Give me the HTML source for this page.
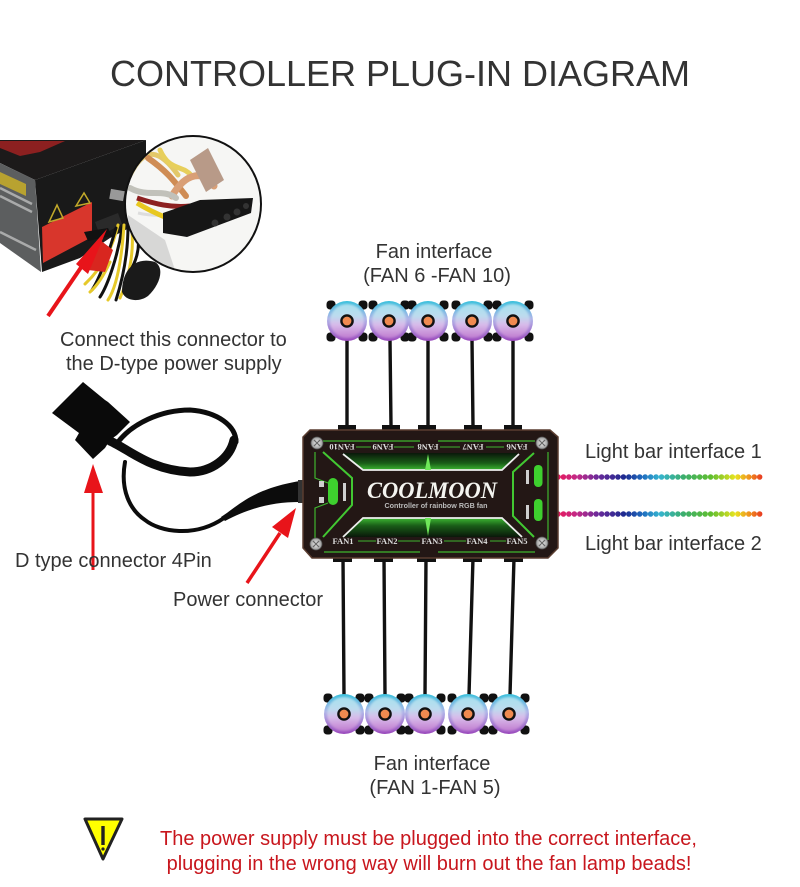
<!DOCTYPE html>
<html><head><meta charset="utf-8"><style>
html,body{margin:0;padding:0;background:#fff}
svg{display:block}
text{font-family:"Liberation Sans",sans-serif}
.l{font-size:20px;fill:#333}
.r{font-size:20px;fill:#c8161d}
.f{font-family:"Liberation Serif",serif;font-size:8.5px;fill:#ddd;font-weight:bold;text-anchor:middle}
</style></head><body>
<svg width="800" height="887" viewBox="0 0 800 887" xmlns="http://www.w3.org/2000/svg">
<defs>
<linearGradient id="fg" x1="0" y1="0" x2="0" y2="1"><stop offset="0" stop-color="#a8e0ee"/><stop offset=".35" stop-color="#bcdcee"/><stop offset=".6" stop-color="#d8bcea"/><stop offset="1" stop-color="#c07cd0"/></linearGradient>
<linearGradient id="fr" x1="0" y1="0" x2="0" y2="1"><stop offset="0" stop-color="#38c0dc"/><stop offset=".45" stop-color="#b0b4e8"/><stop offset="1" stop-color="#9a48bc"/></linearGradient>
<linearGradient id="led" gradientUnits="userSpaceOnUse" x1="557" y1="0" x2="762" y2="0">
<stop offset="0" stop-color="#e8185c"/><stop offset=".1" stop-color="#c02a88"/><stop offset=".2" stop-color="#6a2a9a"/><stop offset=".33" stop-color="#1c2a90"/><stop offset=".42" stop-color="#1f6ec0"/><stop offset=".5" stop-color="#35b4d0"/><stop offset=".62" stop-color="#3cae6a"/><stop offset=".75" stop-color="#5fbe30"/><stop offset=".87" stop-color="#e8e420"/><stop offset=".94" stop-color="#f0901e"/><stop offset="1" stop-color="#e83a20"/></linearGradient>
<linearGradient id="gt" x1="0" y1="0" x2="0" y2="1"><stop offset="0" stop-color="#0a180a"/><stop offset=".6" stop-color="#1a5e18"/><stop offset="1" stop-color="#3db832"/></linearGradient>
<linearGradient id="gb" x1="0" y1="1" x2="0" y2="0"><stop offset="0" stop-color="#0a180a"/><stop offset=".6" stop-color="#1a5e18"/><stop offset="1" stop-color="#3db832"/></linearGradient>
<radialGradient id="scr"><stop offset="0" stop-color="#eee"/><stop offset="1" stop-color="#999"/></radialGradient>
<clipPath id="cc"><circle cx="193" cy="204" r="67"/></clipPath>
<filter id="soft" x="-20%" y="-20%" width="140%" height="140%"><feGaussianBlur stdDeviation="1"/></filter>
<g id="fan">
<g fill="#111"><rect x="-20.500" y="-20.500" width="9" height="9" rx="3.500"/><rect x="11.500" y="-20.500" width="9" height="9" rx="3.500"/><rect x="-20.500" y="11.500" width="9" height="9" rx="3.500"/><rect x="11.500" y="11.500" width="9" height="9" rx="3.500"/></g>
<circle r="20" fill="url(#fr)"/>
<circle r="17" fill="url(#fg)" filter="url(#soft)"/>
<circle r="6.800" fill="#111"/><circle r="4.400" fill="#f08a50"/>
</g>
<g id="screw"><circle r="6" fill="url(#scr)" stroke="#555" stroke-width=".8"/><path d="M-3-3L3 3M-3 3L3-3" stroke="#666" stroke-width="1.200"/></g>
</defs>
<rect width="800" height="887" fill="#fff"/>

<text x="400" y="86" text-anchor="middle" font-size="36" fill="#333" textLength="580" lengthAdjust="spacingAndGlyphs">CONTROLLER PLUG-IN DIAGRAM</text>

<!-- PSU -->
<polygon points="0,140 146,140 35,180 0,163" fill="#1c1a1a"/>
<path d="M0 141L65 141L40 152L20 156L0 148Z" fill="#8c2020"/>
<polygon points="0,163 35,180 41,272 0,243" fill="#5c5e5f"/>
<path d="M0 172L26 184L26 196L0 184Z" fill="#b8a230"/>
<path d="M0 188L32 204M0 196L32 212M0 232L36 250" stroke="#ddd" stroke-width="2.500" opacity=".6"/>
<polygon points="35,180 146,140 146,200 135,225 110,238 80,258 42,272" fill="#191919"/>
<polygon points="42,227 92,202 92,237 43,263" fill="#d8362c"/>
<polygon points="49,222 57,205 63,218" fill="none" stroke="#c2a92a" stroke-width="1.500"/>
<polygon points="76,206 84,193 90,203" fill="none" stroke="#c2a92a" stroke-width="1.500"/>
<polygon points="95,222 118,213 122,224 100,236" fill="#2a2a2a"/>
<rect x="110" y="190" width="14" height="10" fill="#999" transform="rotate(10 117 195)"/>
<!-- bundle -->
<g fill="none" stroke-width="3" stroke-linecap="round">
<path d="M118 225C112 250 100 270 85 284" stroke="#e6c92a"/>
<path d="M122 228C118 255 108 285 100 297" stroke="#111"/>
<path d="M124 225C122 255 118 285 108 300" stroke="#e6c92a"/>
<path d="M116 228C108 255 100 278 92 290" stroke="#111"/>
<path d="M128 226C128 250 124 275 116 300" stroke="#111"/>
<path d="M132 232C134 255 128 280 120 298" stroke="#e6c92a"/>
<path d="M110 262C104 275 98 285 90 292" stroke="#e6c92a"/>
<path d="M138 235C140 250 136 262 128 275" stroke="#111"/>
</g>
<path d="M122 292C122 270 135 256 155 262C165 268 160 285 148 296C140 302 126 302 122 292Z" fill="#1a1a1a"/>
<path d="M84 232L108 228L112 236L88 241Z" fill="#111"/>
<polygon points="100,240 113,250 105,272 88,270 78,265" fill="#d8261f"/>
<line x1="48" y1="316" x2="82" y2="266" stroke="#e8141a" stroke-width="4"/>
<polygon points="107,229 76,264 88,274" fill="#e8141a"/>
<!-- circle inset -->
<circle cx="193" cy="204" r="68" fill="#f6f6f4" stroke="#111" stroke-width="2"/>
<g clip-path="url(#cc)">
<g fill="none" stroke-linecap="round" opacity=".85">
<path d="M130 175C145 145 160 150 178 175" stroke="#e0c050" stroke-width="5"/>
<path d="M148 158C165 170 172 178 186 196" stroke="#c87a38" stroke-width="6"/>
<path d="M160 150C170 172 182 164 192 176" stroke="#e4c840" stroke-width="5"/>
<path d="M172 196C186 172 204 170 214 186" stroke="#d49060" stroke-width="7"/>
<path d="M130 188C148 198 162 188 176 198" stroke="#b8b8b0" stroke-width="6"/>
</g>
<polygon points="190,160 208,148 224,180 206,192" fill="#b89a88"/>
<path d="M128 215L165 240L175 270L130 262Z" fill="#aaa" opacity=".4"/>
</g>
<path d="M137 198C155 204 172 208 190 206" stroke="#8c2020" stroke-width="5" fill="none"/>
<path d="M138 213C150 216 165 216 185 214" stroke="#ddd" stroke-width="3" fill="none"/>
<path d="M137 203C145 208 155 213 167 218" stroke="#e8c820" stroke-width="5" fill="none"/>
<polygon points="163,213 200,200 253,198 251,213 187,237 163,233" fill="#161616"/>
<g fill="#333"><circle cx="215" cy="223" r="3.500"/><circle cx="227" cy="217" r="3.500"/><circle cx="237" cy="212" r="3.500"/><circle cx="246" cy="206" r="3"/></g>

<!-- D connector and cables -->
<g fill="none" stroke="#0c0c0c" stroke-linecap="round">
<path d="M118 442C132 424 160 410 190 410C218 412 236 426 236 442" stroke-width="5"/>
<path d="M110 441C130 450 150 470 190 472C212 472 230 458 234 440" stroke-width="9"/>
<path d="M125 462C120 490 130 510 145 520C160 532 195 538 224 518" stroke-width="4"/>
</g>
<path d="M221 517C238 506 252 489 300 481L300 502C272 502 250 508 225 521Z" fill="#0c0c0c"/>
<polygon points="52,413 83,382 105,400 108,402 130,422 117,435 110,440 105,448 93,459 75,440 79,433" fill="#0a0a0a"/>
<rect x="298" y="480" width="7" height="23" fill="#333"/>

<!-- Arrows -->
<line x1="93" y1="490" x2="93" y2="570" stroke="#e8141a" stroke-width="3"/>
<polygon points="93,464 84,493 103,493" fill="#e8141a"/>
<line x1="247" y1="583" x2="280" y2="533" stroke="#e8141a" stroke-width="3.500"/>
<polygon points="296,508 272,527 288,538" fill="#e8141a"/>

<!-- Fan lines -->
<g stroke="#111" stroke-width="3.400">
<path d="M347 340V426M390 340L391 426M428 340V426M472 340L473 426M513 340V426"/>
<path d="M343 558L344 695M384 558L385 695M426 558L425 695M473 558L469 695M514 558L510 695"/>
</g>
<g fill="#111">
<rect x="338" y="425" width="18" height="6"/><rect x="382" y="425" width="18" height="6"/><rect x="418" y="425" width="18" height="6"/><rect x="464" y="425" width="18" height="6"/><rect x="504" y="425" width="18" height="6"/>
<rect x="333" y="557" width="19" height="5"/><rect x="374" y="557" width="19" height="5"/><rect x="417" y="557" width="19" height="5"/><rect x="463" y="557" width="19" height="5"/><rect x="504" y="557" width="19" height="5"/>
</g>
<use href="#fan" x="347" y="321"/><use href="#fan" x="389" y="321"/><use href="#fan" x="428" y="321"/><use href="#fan" x="472" y="321"/><use href="#fan" x="513" y="321"/>
<use href="#fan" x="344" y="714"/><use href="#fan" x="385" y="714"/><use href="#fan" x="425" y="714"/><use href="#fan" x="468" y="714"/><use href="#fan" x="509" y="714"/>

<!-- LEDs -->
<g stroke="url(#led)" stroke-width="5.500" stroke-linecap="round" stroke-dasharray="0 5.450" fill="none">
<line x1="558" y1="477" x2="760" y2="477"/>
<line x1="558" y1="514" x2="760" y2="514"/>
</g>

<!-- Hub -->
<polygon points="310,430 550,430 558,437 558,548 548,558 312,558 303,548 303,437" fill="#231715" stroke="#5a3d30" stroke-width="1.500"/>
<polygon points="342,453 518,453 502,470 363,470" fill="url(#gt)"/>
<polygon points="343,537 522,537 502,518 363,518" fill="url(#gb)"/>
<path d="M343 454L363 470H502L519 454" fill="none" stroke="#eee" stroke-width="1.800"/>
<path d="M343 537L363 518H502L522 537" fill="none" stroke="#eee" stroke-width="1.800"/>
<polygon points="428,454 431,470 425,470" fill="#6fe85a"/>
<polygon points="428,536 431,518 425,518" fill="#6fe85a"/>
<g fill="none" stroke="#3fb52f" stroke-width="1.200">
<path d="M323 441H420M438 441H535M324 552H420M438 552H535"/>
<path d="M315 452V478L328 483M315 538V508L328 503"/>
<path d="M548 452V540"/>
</g>
<path d="M323 452L352 478V505L323 537" fill="none" stroke="#42c832" stroke-width="2"/>
<path d="M534 453L513 472V516L534 537" fill="none" stroke="#42c832" stroke-width="2"/>
<g stroke="#3fb52f" stroke-width="1"><path d="M356 447H371M394 447H414M440 447H460M486 447H504M358 541H376M398 541H420M444 541H466M490 541H506"/></g>
<text class="f" transform="translate(342,447) rotate(180)" dy="3">FAN10</text>
<text class="f" transform="translate(383,447) rotate(180)" dy="3">FAN9</text>
<text class="f" transform="translate(428,447) rotate(180)" dy="3">FAN8</text>
<text class="f" transform="translate(473,447) rotate(180)" dy="3">FAN7</text>
<text class="f" transform="translate(517,447) rotate(180)" dy="3">FAN6</text>
<text class="f" x="343" y="544">FAN1</text>
<text class="f" x="387" y="544">FAN2</text>
<text class="f" x="432" y="544">FAN3</text>
<text class="f" x="477" y="544">FAN4</text>
<text class="f" x="517" y="544">FAN5</text>
<rect x="328" y="478" width="10" height="27" rx="5" fill="#3ed02e"/>
<rect x="534" y="465" width="8.500" height="22" rx="4" fill="#3ed02e"/>
<rect x="534" y="499" width="8.500" height="22" rx="4" fill="#3ed02e"/>
<g fill="#cfcfcf"><rect x="319" y="481" width="5" height="6"/><rect x="319" y="497" width="5" height="6"/><rect x="343" y="483" width="3" height="18"/><rect x="526" y="470" width="3" height="14"/><rect x="526" y="505" width="3" height="14"/></g>
<use href="#screw" x="317" y="443"/><use href="#screw" x="542" y="443"/><use href="#screw" x="316" y="544"/><use href="#screw" x="542" y="543"/>
<text x="432" y="498" text-anchor="middle" font-size="23" font-weight="bold" font-style="italic" fill="#f4f4f0" style="font-family:'Liberation Serif',serif" textLength="130" lengthAdjust="spacingAndGlyphs">COOLMOON</text>
<text x="436" y="508" text-anchor="middle" font-size="7.500" font-weight="bold" fill="#bbb" textLength="103" lengthAdjust="spacingAndGlyphs">Controller of rainbow RGB fan</text>

<!-- Labels -->
<text class="l" x="434" y="258" text-anchor="middle">Fan interface</text>
<text class="l" x="437" y="282" text-anchor="middle">(FAN 6 -FAN 10)</text>
<text class="l" x="60" y="346">Connect this connector to</text>
<text class="l" x="66" y="370">the D-type power supply</text>
<text class="l" x="15" y="567">D type connector 4Pin</text>
<text class="l" x="173" y="606">Power connector</text>
<text class="l" x="585" y="458">Light bar interface 1</text>
<text class="l" x="585" y="550">Light bar interface 2</text>
<text class="l" x="432" y="770" text-anchor="middle">Fan interface</text>
<text class="l" x="435" y="794" text-anchor="middle">(FAN 1-FAN 5)</text>

<!-- Warning -->
<path d="M85 819H122L103 859Z" fill="#ffff00" stroke="#222" stroke-width="3" stroke-linejoin="round"/>
<path d="M103 826V845" stroke="#222" stroke-width="3.400"/>
<circle cx="103" cy="849" r="1.600" fill="#222"/>
<text class="r" x="428.500" y="845" text-anchor="middle">The power supply must be plugged into the correct interface,</text>
<text class="r" x="429" y="870" text-anchor="middle">plugging in the wrong way will burn out the fan lamp beads!</text>
</svg>
</body></html>
